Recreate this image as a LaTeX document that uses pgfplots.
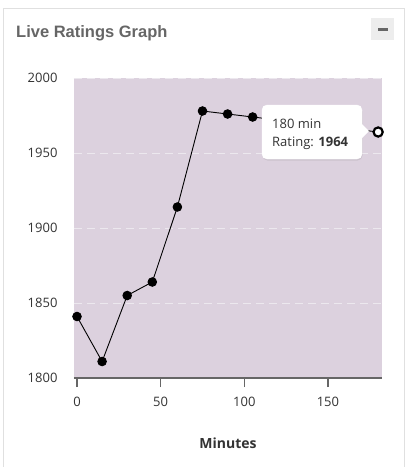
\documentclass[border=0pt]{standalone}
\usepackage{pgfplots}
\pgfplotsset{compat=1.18}
\usepackage{fontspec}
\setmainfont{Open Sans}
\newfontfamily\titlefont{Liberation Sans}
\usetikzlibrary{shadows}
\definecolor{plotbg}{RGB}{220,209,222}
\definecolor{cardborder}{RGB}{224,224,224}
\definecolor{titlegray}{RGB}{102,102,102}
\definecolor{ticktxt}{RGB}{51,51,51}
\definecolor{gridc}{RGB}{236,232,238}
\definecolor{axisc}{RGB}{102,102,102}
\begin{document}
\begin{tikzpicture}[x=1pt,y=1pt]
\useasboundingbox (0,0) rectangle (408,-467);
\fill[white] (0,0) rectangle (408,-467);
% card
\draw[cardborder,line width=1.2pt] (3.5,-467) -- (3.5,-8.5) -- (404.5,-8.5) -- (404.5,-467);
\node[anchor=base west,inner sep=0,text=titlegray,font=\titlefont\bfseries\fontsize{16.5}{19}\selectfont] at (16,-37) {Live Ratings Graph};
\fill[black!7] (371,-18) rectangle (394,-40);
\fill[titlegray] (377.5,-28.3) rectangle (387.5,-30.7);
\begin{axis}[
  at={(74pt,-378pt)}, anchor=south west,
  scale only axis, width=308pt, height=300pt,
  xmin=-1.8, xmax=182.3, ymin=1800, ymax=2000,
  axis background/.style={fill=plotbg},
  axis lines*=left,
  axis line style={-},
  y axis line style={draw=none},
  x axis line style={draw=axisc,line width=1.4pt},
  xtick={0,50,100,150}, ytick={1800,1850,1900,1950,2000},
  tick align=outside,
  major tick length=9pt,
  xtick style={draw=axisc,line width=1.2pt},
  ytick style={draw=none},
  ymajorgrids,
  grid style={gridc,dash pattern=on 8pt off 5pt,line width=1pt},
  /pgf/number format/assume math mode=true,
  /pgf/number format/1000 sep={},
  ticklabel style={font=\fontsize{13}{15}\selectfont,text=ticktxt},
  yticklabel style={anchor=east,xshift=-4pt},
  xticklabel style={yshift=-7pt},
  xlabel={\textbf{Minutes}},
  xlabel style={font=\fontsize{14}{16}\selectfont,text=ticktxt,yshift=-24pt},
  clip=false,
]
\addplot[black,line width=0.9pt,mark=*,mark size=4.3pt,mark options={fill=black}] coordinates {
(0,1841) (15,1811) (30,1855) (45,1864) (60,1914) (75,1978) (90,1976) (105,1974)
(120,1972) (135,1970) (150,1968) (165,1966) (180,1964)};
\addplot[black,line width=2.2pt,mark=*,mark size=4.6pt,mark options={fill=white,draw=black,solid},only marks] coordinates {(180,1964)};
\end{axis}
% tooltip
\draw[white,fill=white,rounded corners=5pt,drop shadow={opacity=0.18,shadow xshift=0.5pt,shadow yshift=-1.5pt}]
  (262,-105) rectangle (362,-159);
\fill[white] (361,-123) -- (369,-131) -- (361,-139) -- cycle;
\node[anchor=base west,inner sep=0,text=ticktxt,font=\fontsize{13}{15}\selectfont] at (272,-128) {180 min};
\node[anchor=base west,inner sep=0,text=ticktxt,font=\fontsize{13}{15}\selectfont] at (272,-146) {Rating: \textbf{1964}};
\end{tikzpicture}
\end{document}
